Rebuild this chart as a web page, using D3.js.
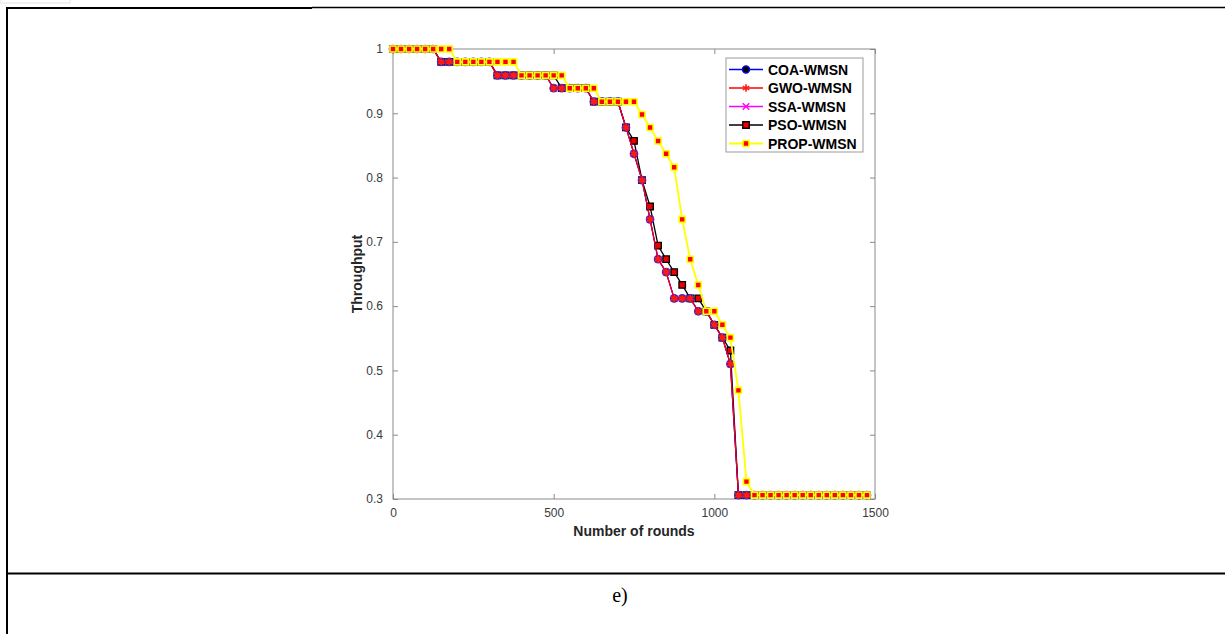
<!DOCTYPE html>
<html>
<head>
<meta charset="utf-8">
<script src="https://cdn.jsdelivr.net/npm/d3@7/dist/d3.min.js"></script>
<style>
  html, body { margin: 0; padding: 0; background: #fff; }
  svg { display: block; }
</style>
</head>
<body>
<svg id="chart" width="1225" height="634"></svg>
<script>
// ---------- data ----------
const rounds = [0,25,50,75,100,125,150,175,200,225,250,275,300,325,350,375,400,425,450,475,
  500,525,550,575,600,625,650,675,700,725,750,775,800,825,850,875,900,925,950,975,
  1000,1025,1050,1075,1100,1125,1150,1175,1200,1225,1250,1275,1300,1325,1350,1375,1400,1425,1450,1475];

const coaWMSN = [1,1,1,1,1,1,
  0.980,0.980,0.980,0.980,0.980,0.980,0.980,
  0.959,0.959,0.959,0.959,0.959,0.959,0.959,
  0.939,0.939,0.939,0.939,0.939,
  0.918,0.918,0.918,0.918,
  0.878,0.837,0.796,0.735,0.673,0.653,0.612,0.612,0.612,0.592,0.592,0.571,0.551,0.510,
  0.306,0.306,0.306,0.306,0.306,0.306,0.306,0.306,0.306,0.306,0.306,0.306,0.306,0.306,0.306,0.306,0.306];

const gwoWMSN = [1,1,1,1,1,1,
  0.980,0.980,0.980,0.980,0.980,0.980,0.980,
  0.959,0.959,0.959,0.959,0.959,0.959,0.959,
  0.939,0.939,0.939,0.939,0.939,
  0.918,0.918,0.918,0.918,
  0.878,0.837,0.796,0.735,0.673,0.653,0.612,0.612,0.612,0.592,0.592,0.571,0.551,0.510,
  0.306,0.306,0.306,0.306,0.306,0.306,0.306,0.306,0.306,0.306,0.306,0.306,0.306,0.306,0.306,0.306,0.306];

const ssaWMSN = [1,1,1,1,1,1,
  0.980,0.980,0.980,0.980,0.980,0.980,0.980,
  0.959,0.959,0.959,0.959,0.959,0.959,0.959,
  0.939,0.939,0.939,0.939,0.939,
  0.918,0.918,0.918,0.918,
  0.878,0.837,0.796,0.735,0.673,0.653,0.612,0.612,0.612,0.592,0.592,0.571,0.551,0.510,
  0.306,0.306,0.306,0.306,0.306,0.306,0.306,0.306,0.306,0.306,0.306,0.306,0.306,0.306,0.306,0.306,0.306];

const psoWMSN = [1,1,1,1,1,1,
  0.980,0.980,0.980,0.980,0.980,0.980,0.980,
  0.959,0.959,0.959,0.959,0.959,0.959,0.959,0.959,
  0.939,0.939,0.939,0.939,
  0.918,0.918,0.918,0.918,
  0.878,0.857,0.796,0.755,0.694,0.673,0.653,0.633,0.612,0.612,0.592,0.571,0.551,0.531,
  0.306,0.306,0.306,0.306,0.306,0.306,0.306,0.306,0.306,0.306,0.306,0.306,0.306,0.306,0.306,0.306,0.306];

const propWMSN = [1,1,1,1,1,1,1,1,
  0.980,0.980,0.980,0.980,0.980,0.980,0.980,0.980,
  0.959,0.959,0.959,0.959,0.959,0.959,
  0.939,0.939,0.939,0.939,
  0.918,0.918,0.918,0.918,0.918,
  0.898,0.878,0.857,0.837,0.816,0.735,0.673,0.633,0.592,0.592,0.571,0.551,0.469,0.327,
  0.306,0.306,0.306,0.306,0.306,0.306,0.306,0.306,0.306,0.306,0.306,0.306,0.306,0.306,0.306];

const seriesNames = ["COA-WMSN","GWO-WMSN","SSA-WMSN","PSO-WMSN","PROP-WMSN"];
const xTicks = [0, 500, 1000, 1500];
const yTicks = [0.3, 0.4, 0.5, 0.6, 0.7, 0.8, 0.9, 1];
const xLabel = "Number of rounds";
const yLabel = "Throughput";
const caption = "e)";

// ---------- layout ----------
const svg = d3.select("#chart");
const L = 393, R = 875, T = 49, B = 499;
const x = d3.scaleLinear().domain([0, 1500]).range([L, R]);
const y = d3.scaleLinear().domain([0.3, 1]).range([B, T]);
const FONT = "'Liberation Sans', Arial, Helvetica, sans-serif";

// document table lines
svg.append("rect").attr("x", 0).attr("y", -1).attr("width", 70).attr("height", 4)
  .attr("fill", "none").attr("stroke", "#e2e2e2").attr("stroke-width", 1);
svg.append("line").attr("x1", 6).attr("x2", 312).attr("y1", 8).attr("y2", 8)
  .attr("stroke", "#000").attr("stroke-width", 2);
svg.append("line").attr("x1", 312).attr("x2", 1225).attr("y1", 7.5).attr("y2", 7.5)
  .attr("stroke", "#000").attr("stroke-width", 1.4);
svg.append("line").attr("x1", 7).attr("x2", 7).attr("y1", 7).attr("y2", 634)
  .attr("stroke", "#000").attr("stroke-width", 2);
svg.append("line").attr("x1", 6).attr("x2", 1225).attr("y1", 573.5).attr("y2", 573.5)
  .attr("stroke", "#000").attr("stroke-width", 2.2);
svg.append("text").attr("x", 620).attr("y", 602).attr("text-anchor", "middle")
  .attr("font-family", "'Liberation Serif', 'Times New Roman', serif").attr("font-size", 20)
  .attr("fill", "#000").text(caption);

// ---------- axes ----------
const axisColor = "#8a8a8a";
const tickColor = "#3a3a3a";
function styleAxis(g) {
  g.select(".domain").remove();
  g.selectAll(".tick line").attr("stroke", axisColor);
  g.selectAll(".tick text").attr("fill", tickColor).attr("font-family", FONT).attr("font-size", 12);
}
svg.append("g").attr("transform", `translate(0,${B})`)
  .call(d3.axisBottom(x).tickValues(xTicks).tickSize(-5).tickPadding(9).tickFormat(d3.format("d")))
  .call(styleAxis);
svg.append("g").attr("transform", `translate(0,${T})`)
  .call(d3.axisTop(x).tickValues(xTicks).tickSize(-5).tickFormat(""))
  .call(styleAxis);
svg.append("g").attr("transform", `translate(${L},0)`)
  .call(d3.axisLeft(y).tickValues(yTicks).tickSize(-5).tickPadding(10).tickFormat(d => d === 1 ? "1" : d3.format(".1f")(d)))
  .call(styleAxis);
svg.append("g").attr("transform", `translate(${R},0)`)
  .call(d3.axisRight(y).tickValues(yTicks).tickSize(-5).tickFormat(""))
  .call(styleAxis);
svg.append("rect").attr("x", L).attr("y", T).attr("width", R - L).attr("height", B - T)
  .attr("fill", "none").attr("stroke", axisColor).attr("stroke-width", 1);

svg.append("text").attr("x", (L + R) / 2).attr("y", 536).attr("text-anchor", "middle")
  .attr("font-family", FONT).attr("font-weight", "bold").attr("font-size", 14).attr("fill", "#262626")
  .text(xLabel);
svg.append("text").attr("transform", `translate(362,${(T + B) / 2}) rotate(-90)`)
  .attr("text-anchor", "middle").attr("font-family", FONT).attr("font-weight", "bold")
  .attr("font-size", 14).attr("fill", "#262626").text(yLabel);

// ---------- series drawing ----------
const line = d3.line().x(d => x(d[0])).y(d => y(d[1]));
function pts(vals) { return rounds.map((r, i) => [r, vals[i]]); }
const plot = svg.append("g");

function drawLine(vals, color, w) {
  plot.append("path").datum(pts(vals)).attr("d", line)
    .attr("fill", "none").attr("stroke", color).attr("stroke-width", w).attr("stroke-linejoin", "round");
}
const sqSym = s => d3.symbol().type(d3.symbolSquare).size(s * s)();
const starSym = d3.symbol().type(d3.symbolAsterisk).size(38)();
const xSym = d3.symbol().type(d3.symbolX).size(30)();

function markerCircle(g, cx, cy) {
  g.append("circle").attr("cx", cx).attr("cy", cy).attr("r", 3.7)
    .attr("fill", "#111").attr("stroke", "#3a2bd8").attr("stroke-width", 1.3);
}
function markerStar(g, cx, cy, withFill) {
  if (withFill) g.append("circle").attr("cx", cx).attr("cy", cy).attr("r", 2.9).attr("fill", "#ee1111");
  g.append("path").attr("d", starSym).attr("transform", `translate(${cx},${cy})`)
    .attr("fill", "none").attr("stroke", "#ff1a1a").attr("stroke-width", 1.6);
}
function markerX(g, cx, cy) {
  g.append("path").attr("d", xSym).attr("transform", `translate(${cx},${cy})`)
    .attr("fill", "none").attr("stroke", "#ff00ff").attr("stroke-width", 1.4);
}
function markerPSO(g, cx, cy) {
  g.append("path").attr("d", sqSym(6.5)).attr("transform", `translate(${cx},${cy})`)
    .attr("fill", "#ee0000").attr("stroke", "#000").attr("stroke-width", 1.3);
}
function markerPROP(g, cx, cy) {
  g.append("path").attr("d", sqSym(6)).attr("transform", `translate(${cx},${cy})`)
    .attr("fill", "#ff0000").attr("stroke", "#ffff00").attr("stroke-width", 1.6);
}

// SSA (bottom)
drawLine(ssaWMSN, "#ff00ff", 1.2);
pts(ssaWMSN).forEach(d => markerX(plot, x(d[0]), y(d[1])));
// PSO
drawLine(psoWMSN, "#000000", 1.3);
pts(psoWMSN).forEach(d => markerPSO(plot, x(d[0]), y(d[1])));
// COA
drawLine(coaWMSN, "#0000ff", 1.2);
pts(coaWMSN).forEach(d => markerCircle(plot, x(d[0]), y(d[1])));
// GWO
drawLine(gwoWMSN, "#ff0000", 1.2);
pts(gwoWMSN).forEach(d => markerStar(plot, x(d[0]), y(d[1]), true));
// PROP (top)
drawLine(propWMSN, "#ffff00", 1.8);
pts(propWMSN).forEach(d => markerPROP(plot, x(d[0]), y(d[1])));

// ---------- legend ----------
const lg = svg.append("g");
lg.append("rect").attr("x", 726).attr("y", 58).attr("width", 137).attr("height", 94)
  .attr("fill", "#fff").attr("stroke", "#9a9a9a").attr("stroke-width", 1);
const legColors = ["#0000ff", "#ff0000", "#ff00ff", "#000000", "#ffff00"];
const legY = [69.5, 88, 106.5, 125, 143.5];
seriesNames.forEach((name, i) => {
  const yy = legY[i];
  lg.append("line").attr("x1", 729).attr("x2", 763).attr("y1", yy).attr("y2", yy)
    .attr("stroke", legColors[i]).attr("stroke-width", i === 4 ? 1.8 : 1.3);
  const cx = 746;
  if (i === 0) {
    lg.append("circle").attr("cx", cx).attr("cy", yy).attr("r", 3.6)
      .attr("fill", "#000").attr("stroke", "#0000ff").attr("stroke-width", 1.2);
  } else if (i === 1) {
    markerStar(lg, cx, yy, false);
  } else if (i === 2) {
    markerX(lg, cx, yy);
  } else if (i === 3) {
    markerPSO(lg, cx, yy);
  } else {
    markerPROP(lg, cx, yy);
  }
  lg.append("text").attr("x", 768).attr("y", yy + 5).attr("font-family", FONT)
    .attr("font-weight", "bold").attr("font-size", 14).attr("fill", "#000").text(name);
});
</script>
</body>
</html>
